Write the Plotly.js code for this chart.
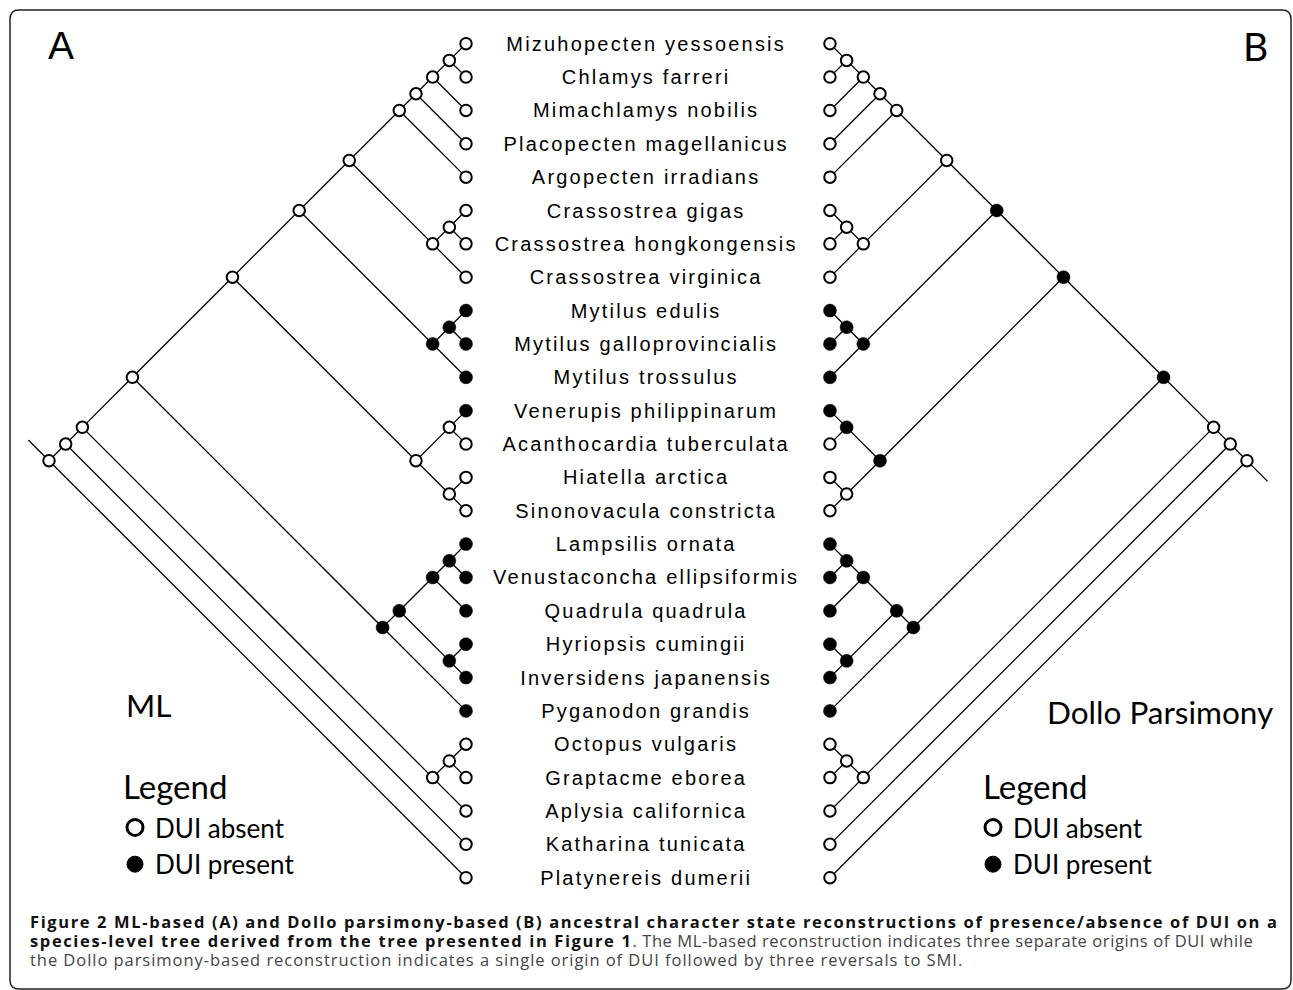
<!DOCTYPE html>
<html><head><meta charset="utf-8">
<script src="https://cdn.plot.ly/plotly-3.0.1.min.js"></script>
<style>
html,body{margin:0;padding:0;background:#fff;}
#chart{width:1293px;height:990px;}
.scatterlayer .textpoint text{letter-spacing:2.2px;}
</style></head><body><div id="chart"></div>
<script>
// ---- data ----
const species = [
  "Mizuhopecten yessoensis","Chlamys farreri","Mimachlamys nobilis","Placopecten magellanicus",
  "Argopecten irradians","Crassostrea gigas","Crassostrea hongkongensis","Crassostrea virginica",
  "Mytilus edulis","Mytilus galloprovincialis","Mytilus trossulus","Venerupis philippinarum",
  "Acanthocardia tuberculata","Hiatella arctica","Sinonovacula constricta","Lampsilis ornata",
  "Venustaconcha ellipsiformis","Quadrula quadrula","Hyriopsis cumingii","Inversidens japanensis",
  "Pyganodon grandis","Octopus vulgaris","Graptacme eborea","Aplysia californica",
  "Katharina tunicata","Platynereis dumerii"
];
// tree topology as nested pairs of tip indices (upper child first)
const pectinidae = [[[[0,1],2],3],4];
const ostreidae = [[5,6],7];
const mytilidae = [[8,9],10];
const heterodonta = [[11,12],[13,14]];
const unionida = [[[[15,16],17],[18,19]],20];
const outgroupClade = [[21,22],23];
const bivalvia = [[[[pectinidae, ostreidae], mytilidae], heterodonta], unionida];
const topology = [[[bivalvia, outgroupClade], 24], 25];
// DUI state at tips (1 = present)
const tipState = [0,0,0,0,0,0,0,0,1,1,1,1,0,0,0,1,1,1,1,1,1,0,0,0,0,0];
// reconstructed states at internal nodes, post-order
const mlNodeState    = [0,0,0,0,0,0,0,1,1,0,0,0,0,0,1,1,1,1,1,0,0,0,0,0,0];
const dolloNodeState = [0,0,0,0,0,0,0,1,1,1,1,0,1,1,1,1,1,1,1,1,0,0,0,0,0];
const legendNames = ["DUI absent","DUI present"];

// ---- layout constants ----
const W = 1293, H = 990;
const ROW_PX = 33.36, TOP_PX = 43.7, LEFT_TIP_PX = 466;
const leftTipX = 0, rightTipX = 10.91, labelX = 5.40, labelDy = 0.06;
const stemLen = 0.62;

function buildTree(tipX, dir, nodeStates, stemDir) {
  const seg = {x: [], y: []}, pts = {x: [], y: [], s: []};
  let k = 0;
  function walk(n) {
    if (typeof n === 'number') {
      pts.x.push(tipX); pts.y.push(n); pts.s.push(tipState[n]);
      return {x: tipX, r: n};
    }
    const a = walk(n[0]), b = walk(n[1]);
    const x = (a.x + b.x - dir * (b.r - a.r)) / 2;
    const r = a.r + dir * (a.x - x);
    [a, b].forEach(c => { seg.x.push(x, c.x, null); seg.y.push(r, c.r, null); });
    pts.x.push(x); pts.y.push(r); pts.s.push(nodeStates[k++]);
    return {x: x, r: r};
  }
  const root = walk(topology);
  seg.x.push(root.x, root.x - dir * stemLen, null);
  seg.y.push(root.r, root.r + stemDir * stemLen, null);
  return {seg: seg, pts: pts};
}

const ml = buildTree(leftTipX, 1, mlNodeState, -1);
const dollo = buildTree(rightTipX, -1, dolloNodeState, 1);

const openMarker = {symbol: 'circle', size: 11.5, color: 'white', line: {color: 'black', width: 2}};
const fullMarker = {symbol: 'circle', size: 13, color: 'black', line: {color: 'black', width: 0.5}};

function pick(p, s) {
  const x = [], y = [];
  p.x.forEach((v, i) => { if (p.s[i] === s) { x.push(v); y.push(p.y[i]); } });
  return {x: x, y: y};
}

const traces = [];
[ml, dollo].forEach(t => {
  traces.push({type: 'scatter', mode: 'lines', x: t.seg.x, y: t.seg.y,
    line: {color: 'black', width: 1.3}, showlegend: false, hoverinfo: 'skip'});
});
[ml, dollo].forEach(t => {
  const o = pick(t.pts, 0), f = pick(t.pts, 1);
  traces.push({type: 'scatter', mode: 'markers', x: o.x, y: o.y, marker: openMarker, showlegend: false, hoverinfo: 'skip'});
  traces.push({type: 'scatter', mode: 'markers', x: f.x, y: f.y, marker: fullMarker, showlegend: false, hoverinfo: 'skip'});
});
traces.push({type: 'scatter', mode: 'text', x: species.map(() => labelX), y: species.map((_, i) => i + labelDy),
  text: species, textposition: 'middle center',
  textfont: {family: 'Liberation Sans, Arial, sans-serif', size: 20, color: 'black'},
  showlegend: false, hoverinfo: 'skip'});
// legend keys
['legend', 'legend2'].forEach(lg => {
  traces.push({type: 'scatter', mode: 'markers', x: [null], y: [null], name: legendNames[0], legend: lg,
    marker: {symbol: 'circle', size: 16, color: 'white', line: {color: 'black', width: 3}}, hoverinfo: 'skip'});
  traces.push({type: 'scatter', mode: 'markers', x: [null], y: [null], name: legendNames[1], legend: lg,
    marker: {symbol: 'circle', size: 20, color: 'black', line: {color: 'black', width: 1}}, hoverinfo: 'skip'});
});

const myriad = 'Lato, "Open Sans", sans-serif';
const legendStyle = (xpx) => ({
  x: xpx / W, xanchor: 'left', y: 1 - 804 / H, yanchor: 'top',
  bgcolor: 'rgba(0,0,0,0)', borderwidth: 0, tracegroupgap: 0,
  font: {family: myriad, size: 26, color: 'black'},
  itemclick: false, itemdoubleclick: false
});

function roundRect(x0, y0, x1, y1, r) {
  const px = v => (v / W).toFixed(5), py = v => (1 - v / H).toFixed(5);
  return 'M' + px(x0 + r) + ',' + py(y0) + ' L' + px(x1 - r) + ',' + py(y0) +
    ' Q' + px(x1) + ',' + py(y0) + ' ' + px(x1) + ',' + py(y0 + r) +
    ' L' + px(x1) + ',' + py(y1 - r) + ' Q' + px(x1) + ',' + py(y1) + ' ' + px(x1 - r) + ',' + py(y1) +
    ' L' + px(x0 + r) + ',' + py(y1) + ' Q' + px(x0) + ',' + py(y1) + ' ' + px(x0) + ',' + py(y1 - r) +
    ' L' + px(x0) + ',' + py(y0 + r) + ' Q' + px(x0) + ',' + py(y0) + ' ' + px(x0 + r) + ',' + py(y0) + ' Z';
}

const capFont = {family: '"Open Sans", sans-serif', size: 16.5, color: '#111'};
const B = t => '<span style="letter-spacing:1.62px"><b>' + t + '</b></span>';
const R = (t, ls) => '<span style="letter-spacing:' + ls + 'px;color:#444">' + t + '</span>';
const ann = (text, xpx, ypx, font, xanchor) => ({
  text: text, x: xpx / W, y: 1 - ypx / H, xref: 'paper', yref: 'paper',
  xanchor: xanchor || 'center', yanchor: 'middle', showarrow: false, font: font
});

const layout = {
  width: W, height: H, margin: {l: 0, r: 0, t: 0, b: 0},
  paper_bgcolor: 'white', plot_bgcolor: 'white', showlegend: true,
  xaxis: {range: [-LEFT_TIP_PX / ROW_PX, (W - LEFT_TIP_PX) / ROW_PX], visible: false, fixedrange: true},
  yaxis: {range: [(H - TOP_PX) / ROW_PX, -TOP_PX / ROW_PX], visible: false, fixedrange: true},
  legend: legendStyle(115),
  legend2: legendStyle(973),
  shapes: [{type: 'path', xref: 'paper', yref: 'paper', path: roundRect(10, 10, 1291, 989, 9),
    line: {color: '#222', width: 1.5}}],
  annotations: [
    ann('A', 60.5, 46, {family: 'Liberation Sans, Arial, sans-serif', size: 39, color: 'black'}),
    ann('B', 1255.5, 46, {family: myriad, size: 39, color: 'black'}),
    ann('ML', 124, 705, {family: myriad, size: 31.5, color: 'black'}, 'left'),
    ann('Dollo Parsimony', 1045, 712, {family: myriad, size: 31.5, color: 'black'}, 'left'),
    ann('Legend', 121, 786, {family: myriad, size: 33, color: 'black'}, 'left'),
    ann('Legend', 981, 786, {family: myriad, size: 33, color: 'black'}, 'left'),
    ann(B('Figure 2 ML-based (A) and Dollo parsimony-based (B) ancestral character state reconstructions of presence/absence of DUI on a'), 28, 921, capFont, 'left'),
    ann(B('species-level tree derived from the tree presented in Figure 1') + R('. The ML-based reconstruction indicates three separate origins of DUI while', 0.58), 28, 940, capFont, 'left'),
    ann(R('the Dollo parsimony-based reconstruction indicates a single origin of DUI followed by three reversals to SMI.', 0.95), 28, 959.5, capFont, 'left')
  ]
};

Plotly.newPlot('chart', traces, layout, {displayModeBar: false, staticPlot: true});
</script></body></html>
